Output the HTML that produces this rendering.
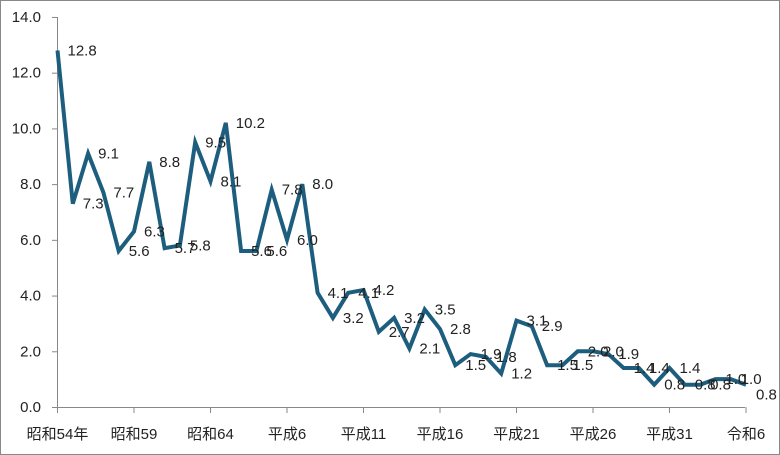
<!DOCTYPE html>
<html><head><meta charset="utf-8"><style>
html,body{margin:0;padding:0;background:#fff;}
svg{display:block;}
text{font-family:"Liberation Sans","Noto Sans CJK JP",sans-serif;font-size:15px;fill:#222;}
</style></head><body>
<svg width="780" height="455" viewBox="0 0 780 455" xmlns="http://www.w3.org/2000/svg">
<rect x="0.5" y="0.5" width="779" height="454" fill="#fff" stroke="#888" stroke-width="1"/>
<g id="axes" stroke="#888" stroke-width="1">
<line x1="57.5" y1="17" x2="57.5" y2="407"/>
<line x1="57.5" y1="407.5" x2="745" y2="407.5"/>
</g>
<g id="yt"></g>
<g id="xt"></g>
<polyline id="ln" fill="none" stroke="#1d5e7e" stroke-width="4" stroke-linejoin="miter"/>
<g id="lb"></g>
<script>
var d=[12.8,7.3,9.1,7.7,5.6,6.3,8.8,5.7,5.8,9.5,8.1,10.2,5.6,5.6,7.8,6.0,8.0,4.1,3.2,4.1,4.2,2.7,3.2,2.1,3.5,2.8,1.5,1.9,1.8,1.2,3.1,2.9,1.5,1.5,2.0,2.0,1.9,1.4,1.4,0.8,1.4,0.8,0.8,1.0,1.0,0.8];
var NS="http://www.w3.org/2000/svg";
function X(i){return 57.5+i*15.3;}
function Y(v){return 407-v*27.86;}
function el(n,a,t,p){var e=document.createElementNS(NS,n);for(var k in a)e.setAttribute(k,a[k]);if(t!=null)e.textContent=t;document.getElementById(p).appendChild(e);}
for(var v=0;v<=14;v+=2){var y=Y(v);el('line',{x1:52,x2:57.5,y1:y+0.5,y2:y+0.5,stroke:'#888'},null,'yt');el('text',{x:41,y:y+5,'text-anchor':'end'},v.toFixed(1),'yt');}
var xl=['昭和54年','昭和59','昭和64','平成6','平成11','平成16','平成21','平成26','平成31','令和6'];
for(var j=0;j<10;j++){var x=X(j*5);el('line',{x1:x,x2:x,y1:407,y2:413,stroke:'#888'},null,'xt');el('text',{x:x,y:439,'text-anchor':'middle'},xl[j],'xt');}
var pts=d.map(function(v,i){return X(i)+','+Y(v);}).join(' ');
document.getElementById('ln').setAttribute('points',pts);
d.forEach(function(v,i){var dy=(i==45)?15:5;el('text',{x:X(i)+10,y:Y(v)+dy},v.toFixed(1),'lb');});
</script>
</svg>
</body></html>
